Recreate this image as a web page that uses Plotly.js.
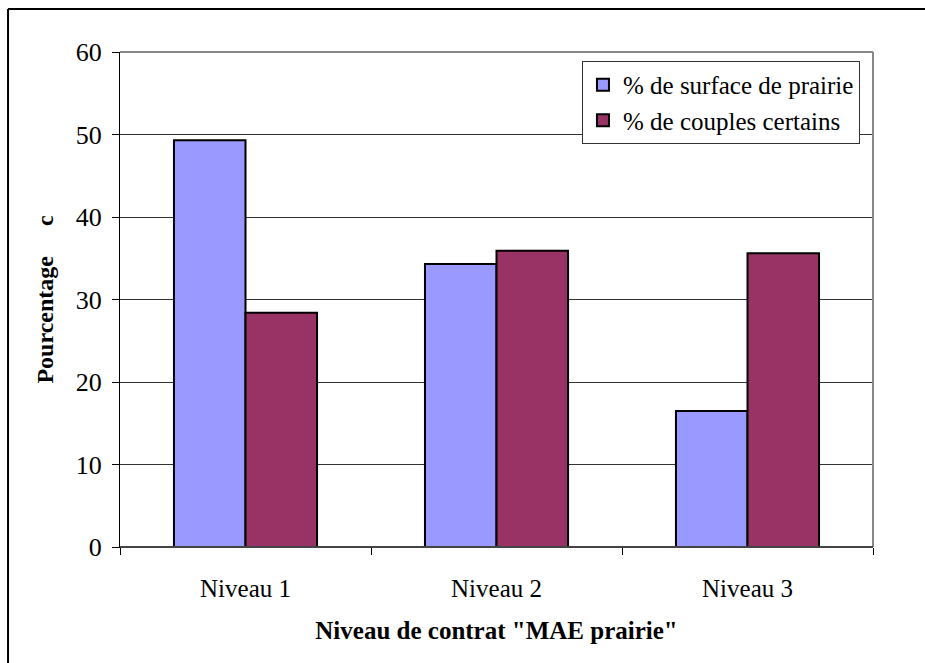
<!DOCTYPE html>
<html>
<head>
<meta charset="utf-8">
<script src="https://cdn.plot.ly/plotly-3.0.1.min.js"></script>
<style>html,body{margin:0;padding:0;background:#fff;}#chart{width:925px;height:663px;}</style>
</head>
<body>
<div id="chart"></div>
<script>
const categories = ["Niveau 1", "Niveau 2", "Niveau 3"];
const surfacePrairie = [49.3, 34.3, 16.5];
const couplesCertains = [28.4, 35.9, 35.6];
const seriesNames = ["% de surface de prairie", "% de couples certains"];
const yTicks = [0, 10, 20, 30, 40, 50, 60];

const FONT = "Liberation Serif";

const traces = [
  {type: "bar", name: seriesNames[0], x: categories, y: surfacePrairie, legendgroup: "a",
   marker: {color: "#9999ff", line: {color: "#000", width: 2}}},
  {type: "bar", name: seriesNames[1], x: categories, y: couplesCertains, legendgroup: "b",
   marker: {color: "#993366", line: {color: "#000", width: 2}}}
];

const layout = {
  width: 925, height: 663,
  margin: {l: 120, r: 52, t: 52, b: 116},
  paper_bgcolor: "#fff", plot_bgcolor: "#fff",
  font: {family: FONT, color: "#000", size: 25},
  barmode: "group", bargap: 0.43, bargroupgap: 0,
  showlegend: true,
  legend: {x: 0.6135, y: 0.982, xanchor: "left", yanchor: "top",
    bgcolor: "#fff", bordercolor: "#333", borderwidth: 1,
    font: {family: FONT, size: 25, color: "#000"}, tracegroupgap: 0, traceorder: "grouped",
    itemwidth: 30},
  xaxis: {
    type: "category", tickson: "boundaries", ticks: "outside", ticklen: 7,
    tickcolor: "#000", showline: true, linecolor: "#000", linewidth: 1,
    tickfont: {family: FONT, size: 25}, showgrid: false, ticklabelstandoff: 19,
    title: {text: "<b>Niveau de contrat \"MAE prairie\"</b>", font: {family: FONT, size: 25}, standoff: 20}
  },
  yaxis: {
    range: [0, 60], tickvals: yTicks, ticks: "outside", ticklen: 7, tickcolor: "#000",
    showline: true, linecolor: "#000", linewidth: 1, zeroline: false,
    gridcolor: "#333", gridwidth: 1, tickfont: {family: FONT, size: 26}, ticklabelstandoff: 5,
    title: {text: "<b>Pourcentage     c</b>", font: {family: FONT, size: 24}, standoff: 15}
  },
  shapes: [
    {type: "line", xref: "paper", yref: "paper", x0: 0, x1: 1, y0: 1, y1: 1, line: {color: "#888", width: 2}},
    {type: "line", xref: "paper", yref: "paper", x0: 1, x1: 1, y0: 0, y1: 1, line: {color: "#888", width: 2}},
    {type: "line", xref: "paper", yref: "paper", x0: 0, x1: 1, y0: 0, y1: 0, line: {color: "#444", width: 2}},
    {type: "line", xref: "paper", yref: "paper", x0: -0.1487, x1: 1.08, y0: 1.0869, y1: 1.0869, line: {color: "#000", width: 2}},
    {type: "line", xref: "paper", yref: "paper", x0: -0.1487, x1: -0.1487, y0: 1.0869, y1: -0.26, line: {color: "#000", width: 2}}
  ]
};

Plotly.newPlot("chart", traces, layout, {displayModeBar: false, staticPlot: true});
</script>
</body>
</html>
